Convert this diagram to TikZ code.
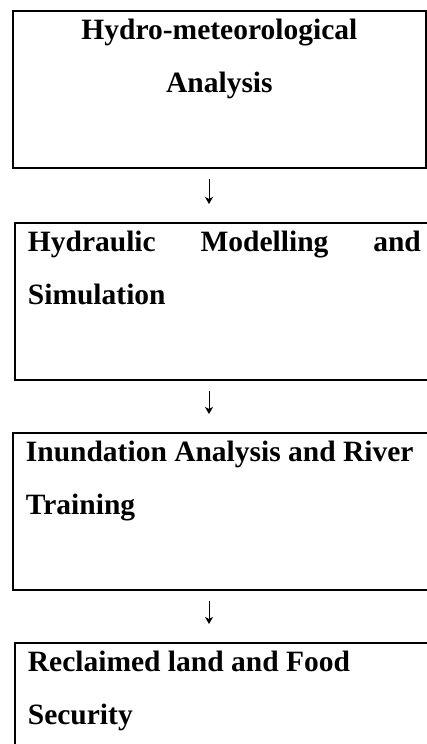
\documentclass[tikz,border=0pt]{standalone}
\usepackage{fontspec}
\setmainfont{Liberation Serif}
\usepackage{tikz}
\usetikzlibrary{arrows.meta}
\hyphenpenalty=10000
\tolerance=10000
\hbadness=10000
\newcommand\stagetext[2]{\parbox[t][141pt][t]{#1}{\bfseries\fontsize{29.5}{53}\selectfont #2}}

\begin{document}
\begin{tikzpicture}[
  stagebox/.style={draw, line width=1.8pt, anchor=north west, inner xsep=13pt, inner ysep=8pt},
  flow/.style={line width=0.9pt, -{Stealth[length=7pt,width=8pt,inset=2pt]}, shorten <=10pt, shorten >=18pt}]
\useasboundingbox (0pt,0pt) rectangle (427pt,-744pt);
\coordinate (ax) at (209pt,0pt);
\draw (12pt,-10pt) node[stagebox] (hydro) {\stagetext{387pt}{\centering Hydro-meteorological\par Analysis}};
\draw (14pt,-222pt) node[stagebox] (hydraulic) {\stagetext{393pt}{Hydraulic Modelling and Simulation}};
\draw (12pt,-432pt) node[stagebox] (inundation) {\stagetext{397pt}{\raggedright Inundation Analysis and River Training}};
\draw (14pt,-642pt) node[stagebox] (reclaimed) {\stagetext{395pt}{\raggedright Reclaimed land and Food Security}};
\draw[flow] (hydro.south -| ax) -- (hydraulic.north -| ax);
\draw[flow] (hydraulic.south -| ax) -- (inundation.north -| ax);
\draw[flow] (inundation.south -| ax) -- (reclaimed.north -| ax);
\end{tikzpicture}
\end{document}
